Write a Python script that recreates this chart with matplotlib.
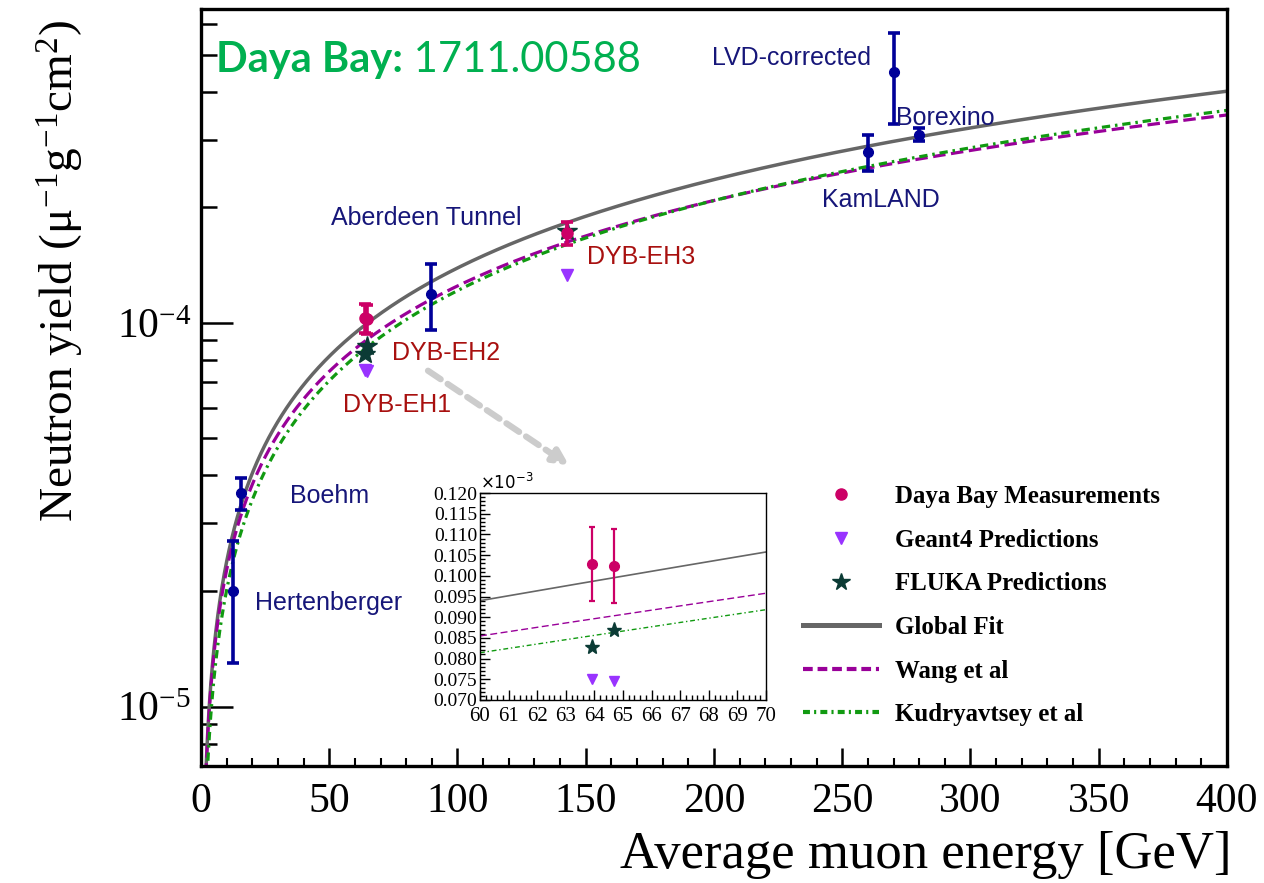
import numpy as np
import matplotlib
matplotlib.use("Agg")
import matplotlib.pyplot as plt
from matplotlib.lines import Line2D
from matplotlib.ticker import MultipleLocator, LogLocator, NullFormatter, FuncFormatter, FormatStrFormatter

plt.rcParams["mathtext.fontset"] = "custom"
plt.rcParams["mathtext.rm"] = "Liberation Serif"
plt.rcParams["mathtext.it"] = "Liberation Serif:italic"
plt.rcParams["mathtext.bf"] = "Liberation Serif:bold"
plt.rcParams["lines.scale_dashes"] = False

# ---- world measurements (energy in GeV, yield in mu^-1 g^-1 cm^2) ----
exp_names = ["Hertenberger", "Boehm", "Aberdeen Tunnel", "KamLAND", "LVD-corrected", "Borexino"]
exp_energy = [12.5, 15.5, 89.5, 260.0, 270.0, 280.0]
exp_yield = [2.0e-5, 3.6e-5, 1.19e-4, 2.79e-4, 4.49e-4, 3.09e-4]
exp_err = [0.7e-5, 0.35e-5, 0.23e-4, 0.30e-4, 1.19e-4, 0.12e-4]

# ---- Daya Bay halls ----
dyb_halls = ["DYB-EH1", "DYB-EH2", "DYB-EH3"]
dyb_energy = [63.9, 64.7, 142.7]
dyb_yield = [1.028e-4, 1.024e-4, 1.71e-4]
dyb_err = [0.090e-4, 0.090e-4, 0.12e-4]
geant4_yield = [0.751e-4, 0.747e-4, 1.334e-4]
fluka_yield = [0.829e-4, 0.869e-4, 1.73e-4]

# ---- power-law models  Y = a * E^b ----
fit_names = ["Global Fit", "Wang et al", "Kudryavtsey et al"]
fit_a = [4.1e-6, 4.13e-6, 3.34e-6]
fit_b = [0.765, 0.74, 0.78]

BLUE = "#000099"
PINK = "#cc0066"
VIOLET = "#9933ff"
STAR = "#0b3b35"
TXT_BLUE = "#161679"
TXT_RED = "#a8100f"
fit_colors = ["#666666", "#990099", "#119a11"]
fit_dash_main = ["-", (0, (9, 4)), (0, (6, 3.5, 1.8, 3.5))]
fit_dash_inset = ["-", (0, (5, 2.5)), (0, (3.5, 2, 1, 2))]

SERIF = "Liberation Serif"
SANS = "Liberation Sans"

fig = plt.figure(figsize=(12.64, 8.83), dpi=100)
ax = fig.add_axes([0.15902, 0.1325, 0.8117, 0.8573])

E = np.linspace(0.3, 400, 3000)
for a, b, c, ls in zip(fit_a, fit_b, fit_colors, fit_dash_main):
    ax.plot(E, a * E ** b, color=c, lw=2.5 if ls == "-" else 2.3, ls=ls, zorder=2)

ax.errorbar(exp_energy, exp_yield, yerr=exp_err, fmt="o", color=BLUE, ms=7,
            elinewidth=2.6, capsize=4, capthick=2.6, zorder=4)
ax.plot(dyb_energy, geant4_yield, "v", color=VIOLET, ms=8, zorder=3)
ax.plot(dyb_energy, fluka_yield, "*", color=STAR, ms=15, zorder=3)
ax.errorbar(dyb_energy, dyb_yield, yerr=dyb_err, fmt="o", color=PINK, ms=8,
            elinewidth=2.6, capsize=4, capthick=2.6, zorder=4)

# experiment labels
exp_label_pos = {"LVD-corrected": (199.2, 4.90e-4), "Borexino": (271.0, 3.42e-4),
                 "KamLAND": (242.1, 2.09e-4), "Aberdeen Tunnel": (50.7, 1.877e-4),
                 "Boehm": (34.7, 3.54e-5), "Hertenberger": (21.0, 1.866e-5)}
for name in exp_names:
    x, y = exp_label_pos[name]
    ax.text(x, y, name, color=TXT_BLUE, fontsize=18, family=SANS, ha="left", va="center", zorder=5)
hall_label_pos = {"DYB-EH1": (55.4, 6.11e-5), "DYB-EH2": (74.5, 8.35e-5), "DYB-EH3": (150.5, 1.486e-4)}
for name in dyb_halls:
    x, y = hall_label_pos[name]
    ax.text(x, y, name, color=TXT_RED, fontsize=18, family=SANS, ha="left", va="center", zorder=5)

# zoom arrow toward the inset
ax.annotate("", xy=(143.5, 4.25e-5), xytext=(88.5, 7.5e-5),
            arrowprops=dict(arrowstyle="-|>,head_length=0.9,head_width=0.45",
                            color="#cccccc", lw=4.5, linestyle=(0, (11, 6)),
                            shrinkA=0, shrinkB=0))

ax.set_xlim(0, 400)
ax.set_yscale("log")
ax.set_ylim(7.0e-6, 6.57e-4)
ax.xaxis.set_major_locator(MultipleLocator(50))
ax.xaxis.set_minor_locator(MultipleLocator(10))
ax.yaxis.set_major_locator(LogLocator(base=10, numticks=10))
ax.yaxis.set_minor_locator(LogLocator(base=10, subs=np.arange(2, 10), numticks=20))
ax.yaxis.set_minor_formatter(NullFormatter())
ax.yaxis.set_major_formatter(FuncFormatter(lambda v, p: r"$\mathregular{10^{%d}}$" % round(np.log10(v))))
ax.tick_params(which="both", direction="in", top=False, right=False)
ax.tick_params(axis="x", which="major", length=13, width=1.8, labelsize=30, pad=12)
ax.tick_params(axis="x", which="minor", length=6, width=1.5)
ax.tick_params(axis="y", which="major", length=23, width=1.8, labelsize=30, pad=7)
ax.tick_params(axis="y", which="minor", length=11.5, width=1.8)
for lab in ax.get_xticklabels() + ax.get_yticklabels():
    lab.set_family(SERIF)
for sp in ax.spines.values():
    sp.set_linewidth(2.4)

# title tag
t1 = ax.text(0.0146, 0.9168, "Daya Bay:", transform=ax.transAxes, color="#00b050",
             fontsize=30, fontweight="bold", family="Lato", ha="left", va="baseline")
ax.annotate(" 1711.00588", xy=(1, 0), xycoords=t1, color="#00b050", fontsize=30,
            family="Lato", ha="left", va="bottom")

fig.text(60 / 1264, 1 - 20 / 883,
         r"Neutron yield ($\mathregular{\mu^{-1}g^{-1}cm^{2}}$)",
         rotation=90, ha="center", va="top", fontsize=34, family=SERIF)
fig.text(1232 / 1264, 1 - 855 / 883, "Average muon energy [GeV]",
         ha="right", va="center", fontsize=38, family=SERIF)

# ---- inset zoom on EH1/EH2 (yield in units of 1e-3) ----
axi = fig.add_axes([480 / 1264, (883 - 700) / 883, 286 / 1264, 207 / 883])
Ei = np.linspace(60, 70, 200)
for a, b, c, ls in zip(fit_a, fit_b, fit_colors, fit_dash_inset):
    axi.plot(Ei, a * Ei ** b * 1e3, color=c, lw=1.2 if ls == "-" else 1.0, ls=ls)
axi.errorbar(dyb_energy[:2], np.array(dyb_yield[:2]) * 1e3, yerr=np.array(dyb_err[:2]) * 1e3,
             fmt="o", color=PINK, ms=7, elinewidth=1.6, capsize=2.5, capthick=1.6)
axi.plot(dyb_energy[:2], np.array(fluka_yield[:2]) * 1e3, "*", color=STAR, ms=11)
axi.plot(dyb_energy[:2], np.array(geant4_yield[:2]) * 1e3, "v", color=VIOLET, ms=7)
axi.set_xlim(60, 70)
axi.set_ylim(0.070, 0.120)
axi.xaxis.set_major_locator(MultipleLocator(1))
axi.xaxis.set_minor_locator(MultipleLocator(0.2))
axi.yaxis.set_major_locator(MultipleLocator(0.005))
axi.yaxis.set_minor_locator(MultipleLocator(0.001))
axi.yaxis.set_major_formatter(FormatStrFormatter("%.3f"))
axi.tick_params(which="both", direction="in", top=False, right=False, width=1.0)
axi.tick_params(axis="y", which="major", length=7, labelsize=14, pad=2)
axi.tick_params(axis="x", which="major", length=7, labelsize=15, pad=5)
axi.tick_params(which="minor", length=3.5)
for lab in axi.get_xticklabels() + axi.get_yticklabels():
    lab.set_family(SERIF)
for sp in axi.spines.values():
    sp.set_linewidth(1.0)
axi.text(0.0, 1.0, r"$\mathregular{\times10^{-3}}$", transform=axi.transAxes,
         fontsize=12, ha="left", va="bottom")

# ---- legend ----
handles = [
    Line2D([], [], ls="none", marker="o", color=PINK, ms=8),
    Line2D([], [], ls="none", marker="v", color=VIOLET, ms=8),
    Line2D([], [], ls="none", marker="*", color=STAR, ms=13),
    Line2D([], [], color=fit_colors[0], lw=3.6),
    Line2D([], [], color=fit_colors[1], lw=3.0, ls=(0, (7, 3.5))),
    Line2D([], [], color=fit_colors[2], lw=3.0, ls=(0, (5, 3, 1.5, 3))),
]
labels = ["Daya Bay Measurements", "Geant4 Predictions", "FLUKA Predictions"] + fit_names
fig.legend(handles, labels, loc="upper left", bbox_to_anchor=(803 / 1264, 1 - 485 / 883),
           frameon=False, borderpad=0, borderaxespad=0, handlelength=3.05,
           handletextpad=0.64, labelspacing=0.83,
           prop=dict(family=SERIF, weight="bold", size=17.9))

fig.savefig("out.png", dpi=100)
